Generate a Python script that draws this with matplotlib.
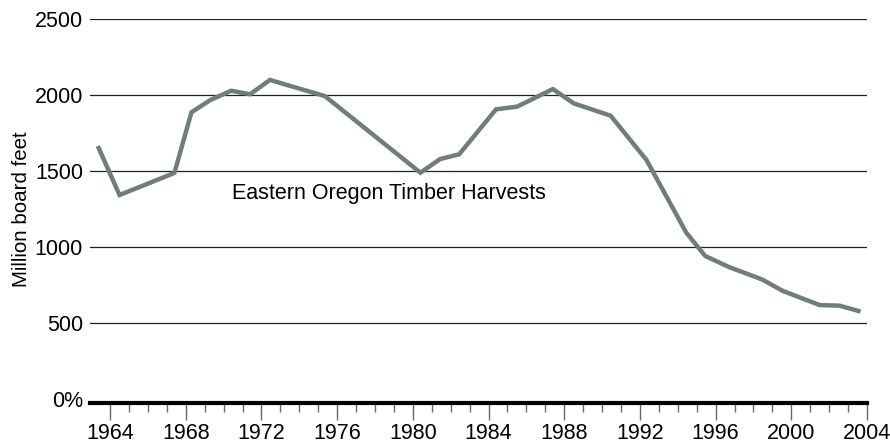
import numpy as np
import matplotlib.pyplot as plt
from matplotlib.ticker import FixedLocator

plt.rcParams['font.family'] = ['Liberation Sans', 'DejaVu Sans']

# harvest series (x in fractional years)
years = [1963.4, 1964.5, 1967.4, 1968.3, 1969.3, 1970.4, 1971.4, 1972.45,
         1973.95, 1975.35, 1980.4, 1981.45, 1982.45, 1984.4, 1985.5, 1987.4,
         1988.5, 1990.45, 1992.35, 1994.45, 1995.45, 1996.75, 1998.45,
         1999.55, 2001.5, 2002.55, 2003.55]
harvest = [1651, 1342, 1487, 1886, 1967, 2028, 2005, 2099,
           2044, 1993, 1489, 1579, 1610, 1906, 1923, 2039,
           1945, 1864, 1572, 1094, 941, 866, 787,
           711, 618, 614, 579]

ytick_vals = [0, 500, 1000, 1500, 2000, 2500]
ytick_labels = ['0%', '500', '1000', '1500', '2000', '2500']
xtick_major = list(range(1964, 2005, 4))
xtick_minor = list(range(1964, 2005))

fig = plt.figure(figsize=(8.9, 4.43), dpi=100)
ax = fig.add_axes([90 / 890, 1 - 399 / 443, (867 - 90) / 890, (399 - 19) / 443])

# horizontal rules
for v in ytick_vals[1:]:
    ax.axhline(v, color='#222222', lw=0.9, zorder=1)

ax.plot(years, harvest, color='#6f7d7b', lw=3.2, solid_joinstyle='miter', zorder=2)

ax.text(1970.45, 1355, 'Eastern Oregon Timber Harvests', fontsize=15.5,
        va='center', ha='left', color='black')

ax.set_xlim(1962.94, 2004)
ax.set_ylim(0, 2500)

ax.set_yticks(ytick_vals)
ax.set_yticklabels(ytick_labels, fontsize=15.5)
ax.tick_params(axis='y', length=0, pad=5)

ax.set_xticks(xtick_major)
ax.xaxis.set_minor_locator(FixedLocator(xtick_minor))
ax.tick_params(axis='x', which='major', direction='out', length=12, width=1,
               color='#666666', labelsize=15.5, pad=2)
ax.tick_params(axis='x', which='minor', direction='out', length=6.5, width=1,
               color='#666666')

for s in ['top', 'left', 'right']:
    ax.spines[s].set_visible(False)
# thick base line sits a touch below the zero level
ax.spines['bottom'].set_position(('outward', 3))
ax.spines['bottom'].set_linewidth(3)
ax.spines['bottom'].set_color('black')

ax.set_ylabel('Million board feet', fontsize=14.8, labelpad=3)

fig.savefig('out.png', dpi=100)
